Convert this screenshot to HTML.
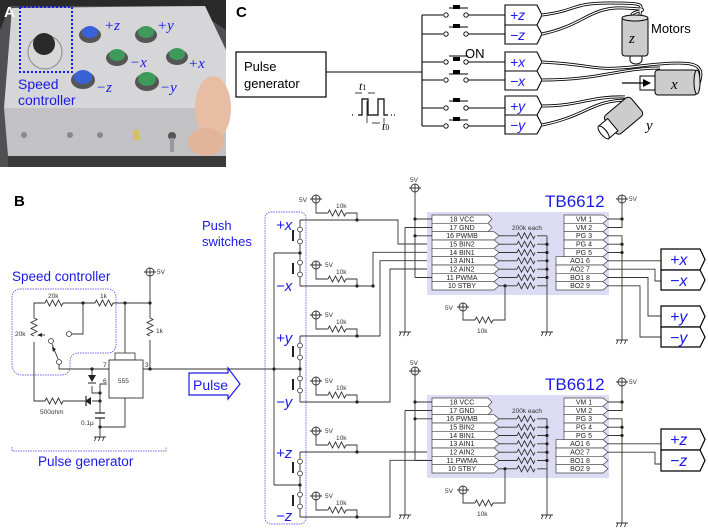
<!DOCTYPE html>
<html><head><meta charset="utf-8"><style>
html,body{margin:0;padding:0;background:#fff;}
svg{display:block;}
text{font-family:"Liberation Sans",sans-serif;}
.b{fill:#1a1ae6;}
.s{font-family:"Liberation Serif",serif;font-style:italic;}
.w{stroke:#333;stroke-width:0.9;fill:none;}
.n{fill:#222;}
.p{font-size:7px;text-anchor:middle;fill:#222;}
.sm{font-size:6.5px;fill:#333;}
</style></head><body>
<svg width="708" height="528" viewBox="0 0 708 528" xmlns="http://www.w3.org/2000/svg">
<defs>
<g id="vcc"><circle cx="0" cy="0" r="4" fill="#fff" stroke="#333" stroke-width="0.9"/><path d="M-6 0H6M0 -4V4" stroke="#333" stroke-width="0.9"/></g>
<g id="gnd"><path d="M-6 0H6M-4 0l-1.5 4M0 0l-1.5 4M4 0l-1.5 4" stroke="#333" stroke-width="0.9" fill="none"/></g>
<path id="rz" d="M0 0l1.5 -3l3 6l3 -6l3 6l3 -6l3 6l1.5 -3" stroke="#333" stroke-width="0.9" fill="none"/>
<path id="rzv" d="M0 0l3 1.5l-6 3l6 3l-6 3l6 3l-6 3l3 1.5" stroke="#333" stroke-width="0.9" fill="none"/>
</defs>

<!-- Panel A photo -->
<rect x="0" y="0" width="226" height="167" fill="#505052"/>
<path d="M0 0H226V30L190 6H10L0 30Z" fill="#2a2a2a"/>
<polygon points="12,8 205,6 226,50 226,108 4,108" fill="#d6d6d8"/>
<polygon points="4,108 226,108 226,156 8,156" fill="#c2c2c4"/>
<rect x="8" y="156" width="218" height="11" fill="#3a3a3a"/>
<ellipse cx="213" cy="108" rx="18" ry="32" fill="#e7bda3"/>
<ellipse cx="206" cy="142" rx="18" ry="14" fill="#e2b49a"/>
<circle cx="45" cy="52" r="17" fill="#d8d8d8" stroke="#888"/>
<circle cx="44" cy="44" r="11" fill="#2a2a2a"/>
<ellipse cx="90" cy="35" rx="11" ry="8" fill="#555"/><ellipse cx="90" cy="32" rx="8" ry="6" fill="#3a62d8"/>
<ellipse cx="146" cy="35" rx="11" ry="8" fill="#555"/><ellipse cx="146" cy="32" rx="8" ry="6" fill="#3e9a5a"/>
<ellipse cx="117" cy="58" rx="11" ry="8" fill="#555"/><ellipse cx="117" cy="55" rx="8" ry="6" fill="#3e9a5a"/>
<ellipse cx="177" cy="57" rx="11" ry="8" fill="#555"/><ellipse cx="177" cy="54" rx="8" ry="6" fill="#3e9a5a"/>
<ellipse cx="83" cy="80" rx="12" ry="9" fill="#555"/><ellipse cx="83" cy="77" rx="9" ry="7" fill="#3a62d8"/>
<ellipse cx="147" cy="82" rx="12" ry="9" fill="#555"/><ellipse cx="147" cy="79" rx="9" ry="7" fill="#3e9a5a"/>
<circle cx="24" cy="135" r="3" fill="#888"/><circle cx="70" cy="135" r="3" fill="#888"/><circle cx="100" cy="135" r="3" fill="#888"/>
<rect x="133" y="130" width="6" height="10" fill="#d8c060"/>
<circle cx="172" cy="136" r="4" fill="#555"/><rect x="170" y="138" width="4" height="14" fill="#999"/>
<rect x="20" y="7" width="52" height="65" fill="none" stroke="#1a1ae6" stroke-width="2" stroke-dasharray="2,2"/>
<text x="104" y="30" class="b s" font-size="15">+z</text>
<text x="157" y="30" class="b s" font-size="15">+y</text>
<text x="130" y="67" class="b s" font-size="15">−x</text>
<text x="188" y="68" class="b s" font-size="15">+x</text>
<text x="96" y="92" class="b s" font-size="15">−z</text>
<text x="160" y="92" class="b s" font-size="15">−y</text>
<text x="18" y="89" class="b" font-size="14">Speed</text>
<text x="18" y="105" class="b" font-size="14">controller</text>
<text x="4" y="17" font-size="15" font-weight="bold" fill="#fff">A</text>

<!-- Panel C -->
<text x="236" y="17" font-size="15" font-weight="bold">C</text>
<rect x="236" y="52" width="90" height="45" fill="#fff" stroke="#000" stroke-width="1.2"/>
<text x="244" y="71" font-size="13">Pulse</text>
<text x="244" y="88" font-size="13">generator</text>
<path d="M326 72H422M422 15V126" stroke="#000" stroke-width="1.1" fill="none"/>
<g stroke="#000" stroke-width="1" fill="none">
<path d="M422 15H443M422 34H443M422 62H443M422 80H443M422 108H443M422 126H443"/>
<path d="M468 15H505M468 34H505M468 62H505M468 80H505M468 108H505M468 126H505"/>
<path d="M449 8H468M449 27H468M449 56H468M449 74H468M449 101H468M449 120H468"/>
</g>
<g fill="#fff" stroke="#000" stroke-width="0.9">
<circle cx="446" cy="15" r="2.2"/><circle cx="466" cy="15" r="2.2"/>
<circle cx="446" cy="34" r="2.2"/><circle cx="466" cy="34" r="2.2"/>
<circle cx="446" cy="62" r="2.2"/><circle cx="466" cy="62" r="2.2"/>
<circle cx="446" cy="80" r="2.2"/><circle cx="466" cy="80" r="2.2"/>
<circle cx="446" cy="108" r="2.2"/><circle cx="466" cy="108" r="2.2"/>
<circle cx="446" cy="126" r="2.2"/><circle cx="466" cy="126" r="2.2"/>
</g>
<g fill="#000"><rect x="453" y="5" width="7" height="4"/><rect x="453" y="24" width="7" height="4"/><rect x="453" y="57" width="7" height="4"/><rect x="453" y="70" width="7" height="4"/><rect x="453" y="98" width="7" height="4"/><rect x="453" y="117" width="7" height="4"/></g>
<text x="465" y="58" font-size="13">ON</text>
<g fill="#fff" stroke="#000" stroke-width="1.1">
<polygon points="505,5 537,5 542,15 537,25 505,25"/><polygon points="505,25 537,25 542,34 537,44 505,44"/>
<polygon points="505,52 537,52 542,62 537,71 505,71"/><polygon points="505,71 537,71 542,80 537,90 505,90"/>
<polygon points="505,96 537,96 542,106 537,115 505,115"/><polygon points="505,115 537,115 542,125 537,134 505,134"/>
</g>
<g class="b s" font-size="14">
<text x="510" y="20">+z</text><text x="510" y="40">−z</text>
<text x="510" y="67">+x</text><text x="510" y="86">−x</text>
<text x="510" y="111">+y</text><text x="510" y="130">−y</text>
</g>
<path d="M358 115H362V99H368V115H378V99H384V115H388" stroke="#000" stroke-width="1.2" fill="none"/>
<path d="M352 115h3M391 115h4" stroke="#000" stroke-width="1.2" stroke-dasharray="1,2"/>
<path d="M355 93h7M375 93h-7M372 123h8M367 123V101M384 123V118" stroke="#000" stroke-width="0.7" fill="none"/>
<text x="359" y="90" class="s" font-size="12">t<tspan font-size="8" font-style="normal">1</tspan></text>
<text x="382" y="130" class="s" font-size="12">t<tspan font-size="8" font-style="normal">0</tspan></text>
<g fill="none">
<g stroke="#000" stroke-width="3"><path d="M542 15C580 10 570 3 610 3S640 5 640 15"/><path d="M542 34C585 25 590 6 625 8S632 10 632 15"/><path d="M542 62C600 65 590 72 640 66S705 62 700 80 695 86 698 86"/><path d="M542 80C600 80 620 68 660 68"/><path d="M542 106C580 106 590 96 625 97"/><path d="M542 125C590 115 590 100 630 100"/></g>
<g stroke="#fff" stroke-width="1.2"><path d="M542 15C580 10 570 3 610 3S640 5 640 15"/><path d="M542 34C585 25 590 6 625 8S632 10 632 15"/><path d="M542 62C600 65 590 72 640 66S705 62 700 80 695 86 698 86"/><path d="M542 80C600 80 620 68 660 68"/><path d="M542 106C580 106 590 96 625 97"/><path d="M542 125C590 115 590 100 630 100"/></g>
</g>
<path d="M630 55h12v5a6 4 0 0 1-12 0z" fill="#fff" stroke="#000"/>
<rect x="622" y="17" width="26" height="39" rx="3" fill="#ccc" stroke="#000"/>
<ellipse cx="635" cy="18" rx="13" ry="3" fill="#ddd" stroke="#000"/>
<text x="629" y="43" class="s" font-size="15">z</text>
<text x="651" y="33" font-size="13">Motors</text>
<rect x="640" y="76" width="15" height="14" fill="#fff" stroke="#000"/>
<rect x="655" y="70" width="42" height="25" rx="3" fill="#ccc" stroke="#000"/>
<ellipse cx="697" cy="82" rx="3" ry="12" fill="#ddd" stroke="#000"/>
<path d="M622 83H645" stroke="#000" stroke-width="1.2"/><polygon points="643,79 651,83 643,87" fill="#000"/>
<text x="671" y="89" class="s" font-size="15">x</text>
<g transform="rotate(-40 622 117)">
<rect x="607" y="105" width="34" height="24" rx="4" fill="#ccc" stroke="#000"/>
<rect x="598" y="109" width="12" height="16" fill="#fff" stroke="#000"/>
<ellipse cx="598" cy="117" rx="3" ry="8" fill="#fff" stroke="#000"/>
</g>
<text x="646" y="130" class="s" font-size="15">y</text>

<!-- Panel B -->
<text x="14" y="206" font-size="15" font-weight="bold">B</text>
<text x="12" y="281" class="b" font-size="13.5">Speed controller</text>
<path d="M20 289H108a8 8 0 0 1 8 8V345a8 8 0 0 1-8 8H78a8 8 0 0 0-8 8V367a8 8 0 0 1-8 8H22a10 10 0 0 1-10-10V297a8 8 0 0 1 8-8Z" fill="none" stroke="#3a3ae6" stroke-width="0.7" stroke-dasharray="1.5,1"/>
<path d="M12 447v4H166v-4" fill="none" stroke="#3a3ae6" stroke-width="0.7" stroke-dasharray="1.5,1"/>
<text x="38" y="466" class="b" font-size="13.5">Pulse generator</text>
<g class="w">
<path d="M34 318V303H45M63 303H95M113 303H150M83 303V334H72"/>
<path d="M34 342V401H45M63 401H85M92 401H100"/>
<path d="M59 364V369H109M92 369V375M92 386V393H100V384H107M100 393V413M100 418V437M100 427H125V398"/>
<path d="M125 303V353M150 276V318M150 340V369M143 369H300"/>
<path d="M45 335H38"/><path d="M52 344L58 359"/>
</g>
<use href="#rz" x="45" y="303"/><use href="#rz" x="95" y="303"/><use href="#rzv" x="34" y="318"/><use href="#rzv" x="150" y="318"/><use href="#rz" x="45" y="401"/>
<polygon points="37,335 42,333 42,337" fill="#222"/><polygon points="52,347 53,352 56,349" fill="#222"/>
<circle cx="69" cy="334" r="2.5" fill="#fff" stroke="#333" stroke-width="0.8"/>
<circle cx="51" cy="341" r="2.5" fill="#fff" stroke="#333" stroke-width="0.8"/>
<circle cx="59" cy="362" r="2.5" fill="#fff" stroke="#333" stroke-width="0.8"/>
<polygon points="88,375 96,375 92,382" fill="#222"/><path d="M88 383H96" stroke="#222"/>
<polygon points="85,397 85,405 91,401" fill="#222" transform="rotate(180 88 401)"/><path d="M86 396V406" stroke="#222" stroke-width="1.2"/>
<path d="M95 413H105M95 418H105" stroke="#222" stroke-width="1.2"/>
<use href="#gnd" x="100" y="437"/><use href="#vcc" x="150" y="272"/>
<text x="157" y="274" class="sm">5V</text>
<text x="48" y="298" class="sm">20k</text><text x="100" y="298" class="sm">1k</text><text x="15" y="336" class="sm">20k</text><text x="156" y="333" class="sm">1k</text>
<text x="40" y="414" class="sm">500ohm</text><text x="81" y="425" class="sm">0.1μ</text>
<rect x="115" y="353" width="20" height="7" fill="#fff" stroke="#333" stroke-width="0.8"/>
<rect x="109" y="360" width="34" height="38" fill="#fff" stroke="#333" stroke-width="0.9"/>
<text x="118" y="383" class="sm">555</text>
<text x="103" y="367" class="sm">7</text><text x="103" y="383" class="sm">6</text><text x="145" y="367" class="sm">3</text>
<g class="n"><circle cx="83" cy="303" r="1.6"/><circle cx="125" cy="303" r="1.6"/><circle cx="150" cy="303" r="1.6"/><circle cx="150" cy="369" r="1.6"/><circle cx="92" cy="369" r="1.6"/><circle cx="100" cy="393" r="1.6"/><circle cx="100" cy="401" r="1.6"/><circle cx="100" cy="427" r="1.6"/></g>
<polygon points="189,373 228,373 228,368 240,384 228,399 228,395 189,395" fill="#fff" stroke="#1a1ae6" stroke-width="1.2"/>
<text x="193" y="390" class="b" font-size="14">Pulse</text>
<text x="202" y="230" class="b" font-size="13">Push</text>
<text x="202" y="246" class="b" font-size="13">switches</text>
<rect x="265" y="212" width="41" height="312" rx="6" fill="none" stroke="#3a3ae6" stroke-width="0.7" stroke-dasharray="1.5,1"/>
<g class="w">
<path d="M274 253V485M274 253H300M274 485H300"/>
<path d="M300 220V227M300 232V239M300 244V260M300 265V272M300 277V286"/>
<path d="M300 336V343M300 348V355M300 360V376M300 381V388M300 393V402"/>
<path d="M300 452V459M300 464V471M300 476V492M300 497V504M300 509V517"/>
<path d="M300 220H398V244H432M300 286H373V252.3H432M300 336H380V260.7H432M300 402H390V269H432"/>
<path d="M300 452H432M300 517H390V460.3H432"/>
</g>
<g fill="#fff" stroke="#333" stroke-width="0.8">
<circle cx="300" cy="229.5" r="2.4"/><circle cx="300" cy="241.5" r="2.4"/><circle cx="300" cy="262.5" r="2.4"/><circle cx="300" cy="274.5" r="2.4"/>
<circle cx="300" cy="345.5" r="2.4"/><circle cx="300" cy="357.5" r="2.4"/><circle cx="300" cy="378.5" r="2.4"/><circle cx="300" cy="390.5" r="2.4"/>
<circle cx="300" cy="461.5" r="2.4"/><circle cx="300" cy="473.5" r="2.4"/><circle cx="300" cy="494.5" r="2.4"/><circle cx="300" cy="506.5" r="2.4"/>
</g>
<g fill="#222"><rect x="292" y="230" width="2" height="11"/><rect x="292" y="263" width="2" height="11"/><rect x="292" y="346" width="2" height="11"/><rect x="292" y="379" width="2" height="11"/><rect x="292" y="462" width="2" height="11"/><rect x="292" y="495" width="2" height="11"/></g>
<g class="b s" font-size="15">
<text x="276" y="230">+x</text><text x="276" y="291">−x</text>
<text x="276" y="343">+y</text><text x="276" y="407">−y</text>
<text x="276" y="458">+z</text><text x="276" y="521">−z</text>
</g>
<g class="n"><circle cx="274" cy="369" r="1.6"/><circle cx="300" cy="253" r="1.6"/><circle cx="300" cy="369" r="1.6"/><circle cx="300" cy="485" r="1.6"/><circle cx="373" cy="286" r="1.6"/></g>
<g id="pu">
<path d="M316 203V213H328M346 213H357V220" class="w"/><use href="#rz" x="328" y="213"/><use href="#vcc" x="316" y="199"/><circle cx="357" cy="220" r="1.6" class="n"/>
</g>
<text x="299" y="202" class="sm">5V</text><text x="336" y="208" class="sm">10k</text>
<use href="#pu" y="66"/><use href="#pu" y="116"/><use href="#pu" y="182"/><use href="#pu" y="232"/><use href="#pu" y="297"/>
<text x="325" y="267" class="sm">5V</text><text x="336" y="274" class="sm">10k</text>
<text x="325" y="317" class="sm">5V</text><text x="336" y="324" class="sm">10k</text>
<text x="325" y="383" class="sm">5V</text><text x="336" y="390" class="sm">10k</text>
<text x="325" y="433" class="sm">5V</text><text x="336" y="440" class="sm">10k</text>
<text x="325" y="498" class="sm">5V</text><text x="336" y="505" class="sm">10k</text>

<g id="chipA">
<rect x="427" y="212" width="182" height="83" fill="#dcdcf5"/>
<g fill="#fff" stroke="#444" stroke-width="0.7">
<polygon points="432,215 488,215 492,219 488,223.3 432,223.3"/>
<polygon points="432,223.3 488,223.3 492,227.5 488,231.7 432,231.7"/>
<polygon points="432,231.7 494,231.7 499,235.8 494,240 432,240"/>
<polygon points="432,240 494,240 499,244.2 494,248.3 432,248.3"/>
<polygon points="432,248.3 494,248.3 499,252.5 494,256.7 432,256.7"/>
<polygon points="432,256.7 494,256.7 499,260.8 494,265 432,265"/>
<polygon points="432,265 494,265 499,269.2 494,273.3 432,273.3"/>
<polygon points="432,273.3 494,273.3 499,277.5 494,281.7 432,281.7"/>
<polygon points="432,281.7 494,281.7 499,285.8 494,290 432,290"/>
<polygon points="564,215 603,215 608,219 603,223.3 564,223.3"/>
<polygon points="564,223.3 603,223.3 608,227.5 603,231.7 564,231.7"/>
<polygon points="564,231.7 603,231.7 608,235.8 603,240 564,240"/>
<polygon points="564,240 603,240 608,244.2 603,248.3 564,248.3"/>
<polygon points="564,248.3 603,248.3 608,252.5 603,256.7 564,256.7"/>
<polygon points="556,256.7 603,256.7 608,260.8 603,265 556,265"/>
<polygon points="556,265 603,265 608,269.2 603,273.3 556,273.3"/>
<polygon points="556,273.3 603,273.3 608,277.5 603,281.7 556,281.7"/>
<polygon points="556,281.7 603,281.7 608,285.8 603,290 556,290"/>
</g>
<g class="p">
<text x="462" y="221.5">18 VCC</text><text x="462" y="229.8">17 GND</text><text x="462" y="238.2">16 PWMB</text><text x="462" y="246.5">15 BIN2</text><text x="462" y="254.8">14 BIN1</text><text x="462" y="263.2">13 AIN1</text><text x="462" y="271.5">12 AIN2</text><text x="462" y="279.8">11 PWMA</text><text x="462" y="288.2">10 STBY</text>
<text x="584" y="221.5">VM 1</text><text x="584" y="229.8">VM 2</text><text x="584" y="238.2">PG 3</text><text x="584" y="246.5">PG 4</text><text x="584" y="254.8">PG 5</text><text x="580" y="263.2">AO1 6</text><text x="580" y="271.5">AO2 7</text><text x="580" y="279.8">BO1 8</text><text x="580" y="288.2">BO2 9</text>
</g>
<text x="512" y="230" class="sm">200k each</text>
<g class="w"><path d="M499 235.8H517M537 235.8H547M499 244.2H517M537 244.2H547M499 252.5H517M537 252.5H547M499 260.8H517M537 260.8H547M499 269.2H517M537 269.2H547M499 277.5H517M537 277.5H547M499 285.8H517M537 285.8H547M547 235.8V332"/>
<path d="M608 219H622M608 227.5H622V199M608 235.8H622V340M608 244.2H622M608 252.5H622"/>
<path d="M415 192V277.5M415 219H432M415 235.8H432M415 277.5H432M405 227.5H432M405 227.5V332"/>
<path d="M505 285.8V320H493M475 320H463V311"/></g>
<use href="#rz" x="517" y="235.8"/><use href="#rz" x="517" y="244.2"/><use href="#rz" x="517" y="252.5"/><use href="#rz" x="517" y="260.8"/><use href="#rz" x="517" y="269.2"/><use href="#rz" x="517" y="277.5"/><use href="#rz" x="517" y="285.8"/><use href="#rz" x="475" y="320"/>
<g class="n"><circle cx="547" cy="244.2" r="1.6"/><circle cx="547" cy="252.5" r="1.6"/><circle cx="547" cy="260.8" r="1.6"/><circle cx="547" cy="269.2" r="1.6"/><circle cx="547" cy="277.5" r="1.6"/><circle cx="622" cy="219" r="1.6"/><circle cx="622" cy="244.2" r="1.6"/><circle cx="622" cy="252.5" r="1.6"/><circle cx="415" cy="219" r="1.6"/><circle cx="415" cy="235.8" r="1.6"/><circle cx="505" cy="285.8" r="1.6"/></g>
<use href="#gnd" x="547" y="332"/><use href="#gnd" x="622" y="340"/><use href="#gnd" x="405" y="332"/>
<use href="#vcc" x="415" y="188"/><use href="#vcc" x="622" y="199"/><use href="#vcc" x="463" y="307"/>
<text x="545" y="207" class="b" font-size="17">TB6612</text>
</g>
<text x="410" y="182" class="sm">5V</text><text x="629" y="201" class="sm">5V</text><text x="445" y="310" class="sm">5V</text><text x="477" y="333" class="sm">10k</text>
<use href="#chipA" y="183"/>
<text x="410" y="365" class="sm">5V</text><text x="629" y="384" class="sm">5V</text><text x="445" y="493" class="sm">5V</text><text x="477" y="516" class="sm">10k</text>
<g class="w">
<path d="M608 260.8H661M608 269.2H655V281H661M608 277.5H648V316H661M608 285.8H640V337H661"/>
<path d="M608 443.8H661M608 452.2H655V464H661"/>
</g>
<g fill="#fff" stroke="#000" stroke-width="1.2">
<polygon points="661,249 700,249 705,259.5 700,270 661,270"/><polygon points="661,270 700,270 705,280 700,290 661,290"/>
<polygon points="661,306 700,306 705,316.5 700,327 661,327"/><polygon points="661,327 700,327 705,337 700,347 661,347"/>
<polygon points="661,429 700,429 705,439.5 700,450 661,450"/><polygon points="661,450 700,450 705,460.5 700,471 661,471"/>
</g>
<g class="b s" font-size="16">
<text x="670" y="265">+x</text><text x="670" y="286">−x</text>
<text x="670" y="322">+y</text><text x="670" y="343">−y</text>
<text x="670" y="445">+z</text><text x="670" y="466">−z</text>
</g>
</svg>
</body></html>
